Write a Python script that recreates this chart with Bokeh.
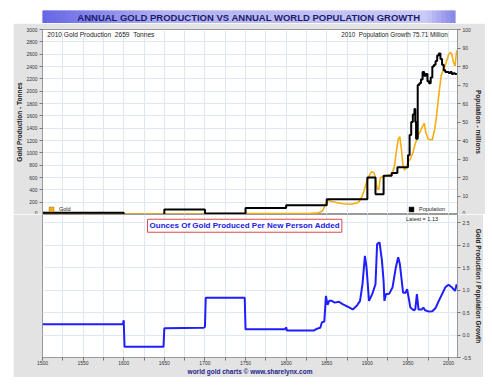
import numpy as np
from bokeh.plotting import figure
from bokeh.models import (Range1d, LinearAxis, SingleIntervalTicker, Label, Legend,
                          LegendItem, PrintfTickFormatter)
from bokeh.layouts import column
from bokeh.core.properties import value
from bokeh.embed import file_html
from bokeh.resources import INLINE

# ---------------- data ----------------
title_text = "ANNUAL GOLD PRODUCTION VS ANNUAL WORLD POPULATION GROWTH"
box_title = "Ounces Of Gold Produced Per New Person Added"
footer_text = "world gold charts \u00a9 www.sharelynx.com"

gold_years = [1500, 1600, 1650, 1700, 1750, 1800, 1830, 1840, 1845, 1849, 1852, 1856, 1860,
              1870, 1880, 1887, 1890, 1893, 1896, 1899, 1902, 1905, 1908, 1910, 1912, 1914,
              1916, 1920, 1925, 1930, 1933, 1936, 1938, 1940, 1942, 1944, 1946, 1948, 1950,
              1953, 1956, 1959, 1963, 1967, 1970, 1972, 1975, 1980, 1983, 1985, 1988, 1991,
              1996, 2000, 2002, 2004, 2006, 2008, 2009, 2010]
gold_tonnes = [8, 8, 9, 11, 17, 16, 18, 28, 60, 190, 230, 210, 200,
               175, 165, 185, 215, 280, 390, 520, 620, 690, 680, 600, 420, 400,
               600, 610, 640, 650, 760, 1050, 1220, 1260, 1050, 780, 720, 760, 850,
               900, 1000, 1150, 1290, 1400, 1480, 1330, 1220, 1210, 1390, 1580, 1940, 2260,
               2420, 2590, 2630, 2600, 2470, 2410, 2540, 2659]

pop_years = [1500, 1600, 1650, 1700, 1750, 1800, 1850, 1900, 1910, 1920, 1930, 1937, 1950,
             1952, 1954, 1956, 1958, 1959, 1960, 1962, 1964, 1966, 1968, 1970, 1972, 1974,
             1976, 1978, 1980, 1982, 1984, 1986, 1988, 1990, 1992, 1994, 1996, 1998, 2000,
             2002, 2004, 2006, 2008, 2010]
pop_millions = [1.0, -0.6, 2.7, 0.5, 3.5, 5.0, 8.3, 20, 11, 21, 22.5, 25.5, 32,
                43, 50, 54, 57, 50, 41, 70, 71, 73, 77, 75, 76, 72,
                71, 74, 80, 81, 83, 86, 87, 84, 81, 78, 77, 77, 76.5,
                77, 76, 76.4, 76, 75.71]

ratio_years = [1500, 1599, 1600, 1601, 1649, 1650, 1698, 1700, 1701, 1749, 1750, 1799, 1800,
               1801, 1834, 1838, 1842, 1844, 1847, 1849, 1851, 1853, 1856, 1860, 1865, 1870,
               1877, 1882, 1887, 1891, 1894, 1897, 1899, 1902, 1906, 1910, 1912, 1915, 1918,
               1920, 1921, 1923, 1927, 1931, 1935, 1938, 1940, 1944, 1947, 1949, 1953, 1957,
               1959, 1961, 1963, 1967, 1969, 1971, 1976, 1980, 1984, 1988, 1992, 1996, 2000,
               2004, 2008, 2010]
ratio_values = [0.24, 0.24, 0.33, -0.26, -0.26, 0.15, 0.16, 0.18, 0.83, 0.83, 0.13, 0.13, 0.17,
                0.10, 0.10, 0.14, 0.16, 0.28, 0.30, 0.87, 0.67, 0.76, 0.76, 0.72, 0.74, 0.68,
                0.62, 0.57, 0.65, 0.76, 1.13, 1.76, 1.50, 0.76, 0.91, 1.13, 2.02, 2.06, 1.65,
                1.20, 0.76, 0.91, 0.92, 1.06, 1.50, 1.73, 1.58, 0.94, 0.94, 1.02, 0.61, 0.55,
                0.57, 0.91, 0.57, 0.57, 0.61, 0.55, 0.52, 0.53, 0.60, 0.76, 0.91, 1.06, 1.12,
                1.06, 0.98, 1.13]

# ---------------- styles ----------------
FONT = "Liberation Sans"
GRAY = "#e3e3e3"
GRID = "#dfe8f2"
ORANGE = "#f5ae12"
BLUE = "#1e1eff"
NAVY = "#1c1c6e"
FL, FR = 27, 28
FW = 415
NB = "\u00a0"

xr = Range1d(1500, 2011)

# ---------------- title bar ----------------
t = figure(width=FL + FW + FR, height=13, x_range=Range1d(0, 1), y_range=Range1d(0, 1),
           x_axis_location=None, y_axis_location=None, toolbar_location=None,
           output_backend="svg", min_border=0, outline_line_color=None)
for g in t.grid:
    g.visible = False
n = 90
edges = np.linspace(0, 1, n + 1)
mid = (edges[:-1] + edges[1:]) / 2
stops = [0, 0.3, 0.93, 1]
scols = [(0x66, 0x66, 0xe6), (0xb2, 0xb2, 0xf2), (0xca, 0xca, 0xf6), (0x84, 0x84, 0xe6)]
cols = ["#%02x%02x%02x" % tuple(int(np.interp(m, stops, [c[i] for c in scols])) for i in range(3))
        for m in mid]
t.quad(left=edges[:-1], right=edges[1:], bottom=0, top=1, fill_color=cols, line_color=cols)
t.text(x=[0.5], y=[0.5], text=[title_text], text_align="center", text_baseline="middle",
       text_font=value(FONT), text_font_style="bold", text_font_size="9.5px", text_color=NAVY)

# ---------------- top chart ----------------
p = figure(frame_width=FW, frame_height=185, x_range=xr, y_range=Range1d(0, 3000),
           x_axis_location=None, toolbar_location=None, output_backend="svg",
           min_border_left=FL, min_border_right=FR, min_border_top=6, min_border_bottom=0,
           border_fill_color=GRAY, background_fill_color="white", outline_line_color="#999999")
p.extra_y_ranges = {"pop": Range1d(0, 100)}


def style_axis(ax, label):
    ax.axis_label = label
    ax.axis_label_text_font = FONT
    ax.axis_label_text_font_size = "6.5px"
    ax.axis_label_text_font_style = "bold"
    ax.axis_label_text_color = "#222222"
    ax.axis_label_standoff = 1
    ax.major_label_text_font = FONT
    ax.major_label_text_font_size = "5px"
    ax.major_label_text_color = "#333333"
    ax.major_label_standoff = 2
    ax.major_tick_out = 3
    ax.major_tick_in = 0
    ax.minor_tick_out = 0
    ax.minor_tick_in = 0
    ax.axis_line_color = "#999999"
    ax.major_tick_line_color = "#777777"


lax = p.yaxis[0]
lax.ticker = SingleIntervalTicker(interval=200, num_minor_ticks=0)
style_axis(lax, "Gold Production - Tonnes")
lax.axis_label_standoff = 0

rax = LinearAxis(y_range_name="pop", ticker=SingleIntervalTicker(interval=10, num_minor_ticks=0))
style_axis(rax, "Population - millions")
p.add_layout(rax, "right")

p.xgrid.ticker = SingleIntervalTicker(interval=25)
p.ygrid.ticker = SingleIntervalTicker(interval=200)
p.grid.grid_line_color = GRID

p.line(gold_years, gold_tonnes, line_color=ORANGE, line_width=1.6)
p.step(pop_years, pop_millions, mode="after", y_range_name="pop", line_color="black",
       line_width=2)

# legend swatches: a zero-size marker sitting on each series' last point
g_leg = p.scatter(x=gold_years[-1:], y=gold_tonnes[-1:], marker="square", size=0,
                  fill_color=ORANGE, line_color="#9a6a00", line_width=0.5)
k_leg = p.scatter(x=pop_years[-1:], y=pop_millions[-1:], y_range_name="pop", marker="square",
                  size=0, fill_color="black", line_color="black", line_width=0.5)
for item, rend, loc in (("Gold", g_leg, (3, -1)), ("Population", k_leg, (363, -1))):
    leg = Legend(items=[LegendItem(label=item, renderers=[rend])], location=loc,
                 glyph_width=12, glyph_height=12, label_height=12, label_width=10,
                 label_standoff=2, padding=1, spacing=0, margin=0,
                 background_fill_alpha=0, border_line_color=None,
                 label_text_font=FONT, label_text_font_size="5.5px", label_text_color="#222222")
    p.add_layout(leg)

p.add_layout(Label(x=1506, y=2919,
                   text=f"2010 Gold Production{NB}{NB}{gold_tonnes[-1]}{NB}{NB}Tonnes",
                   text_font=FONT, text_font_size="6.6px", text_color="#222222",
                   text_baseline="middle"))
p.add_layout(Label(x=1999, y=2919,
                   text=f"2010{NB}{NB}Population Growth {pop_millions[-1]} Million",
                   text_font=FONT, text_font_size="6.3px", text_color="#222222",
                   text_baseline="middle", text_align="right"))

# ---------------- bottom chart ----------------
b = figure(frame_width=FW, frame_height=143, x_range=xr, y_range=Range1d(-0.5, 2.68),
           y_axis_location="right", toolbar_location=None, output_backend="svg",
           min_border_left=FL, min_border_right=FR, min_border_top=0, min_border_bottom=18,
           border_fill_color=GRAY, background_fill_color="white", outline_line_color="#999999")
bax = b.yaxis[0]
bax.ticker = SingleIntervalTicker(interval=0.5, num_minor_ticks=0)
bax.formatter = PrintfTickFormatter(format="%.1f")
style_axis(bax, "Gold Production / Population Growth")

xax = b.xaxis[0]
xax.ticker = SingleIntervalTicker(interval=50, num_minor_ticks=2)
style_axis(xax, footer_text)
xax.minor_tick_out = 3
xax.minor_tick_line_color = "#777777"
xax.axis_label_text_color = "#23238a"
xax.axis_label_standoff = 0
xax.major_label_standoff = 0

b.xgrid.ticker = SingleIntervalTicker(interval=25)
b.grid.grid_line_color = GRID

b.line(ratio_years, ratio_values, line_color=BLUE, line_width=2)

b.add_layout(Label(x=1749, y=2.43, text=box_title, text_font=FONT, text_font_size="8px",
                   text_font_style="bold", text_color="#2020e0", text_align="center",
                   text_baseline="middle", background_fill_color="white",
                   border_line_color="#d84848", border_line_width=1, padding=2))
b.add_layout(Label(x=1987, y=2.58, text=f"Latest = {ratio_values[-1]:.2f}", text_font=FONT,
                   text_font_size="5.5px", text_color="#222222", text_align="right",
                   text_baseline="middle"))

layout = column(t, p, b, spacing=0, margin=(10, 0, 0, 13))

open("out.html", "w").write(file_html(layout, INLINE))
